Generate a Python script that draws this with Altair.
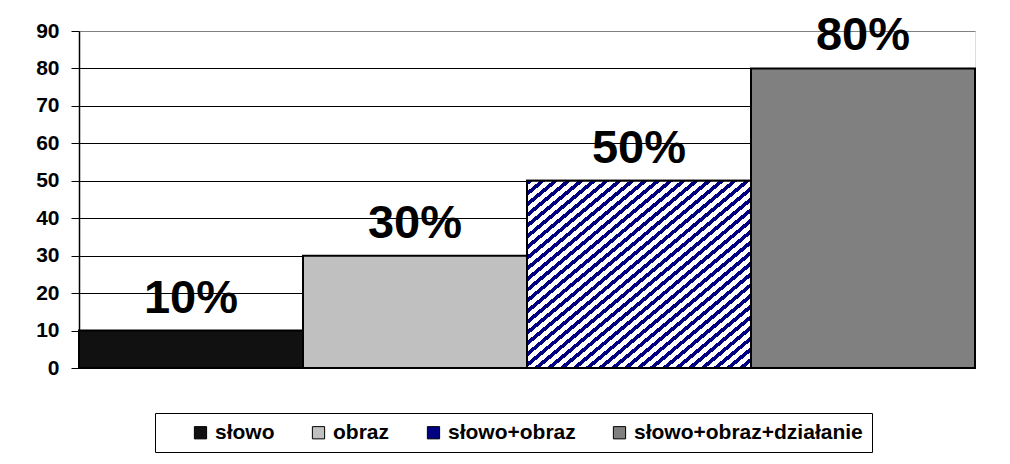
import altair as alt
import pandas as pd

categories = ["słowo", "obraz", "słowo+obraz", "słowo+obraz+działanie"]
values = [10, 30, 50, 80]
labels = ["10%", "30%", "50%", "80%"]
colors = ["#111111", "#c0c0c0", "#000080", "#808080"]
y_ticks = list(range(0, 100, 10))

df = pd.DataFrame({"cat": categories, "val": values, "label": labels})

# diagonal hatch for the "słowo+obraz" bar, built as a striped linear gradient
N = 35
FRAC = 0.45
stops = []
for k in range(N):
    stops += [
        {"offset": k / N, "color": "#000080"},
        {"offset": (k + FRAC) / N, "color": "#000080"},
        {"offset": (k + FRAC) / N, "color": "#ffffff"},
        {"offset": (k + 1) / N, "color": "#ffffff"},
    ]
hatch_fill = {"gradient": "linear", "x1": 0, "y1": 0, "x2": 1, "y2": 1, "stops": stops}

FONT = "Liberation Sans"

x_enc = alt.X("cat:N", sort=categories,
              scale=alt.Scale(paddingInner=0, paddingOuter=0), axis=None)
y_enc = alt.Y("val:Q", scale=alt.Scale(domain=[0, 90]),
              axis=alt.Axis(values=y_ticks, grid=True,
                            gridColor={"condition": {"test": "datum.value == 90 || datum.value == 0",
                                                     "value": "#808080"}, "value": "black"},
                            gridWidth=1, domainColor="black", domainWidth=1.5,
                            tickColor="black", tickSize=8, tickWidth=1,
                            labelFontSize=21, labelFontWeight="bold", labelColor="black",
                            labelFont=FONT, labelPadding=12, title=None))

base = alt.Chart(df)

bars = base.mark_bar(stroke="black", strokeWidth=2).encode(
    x=x_enc,
    y=y_enc,
    color=alt.Color("cat:N", sort=categories,
                    scale=alt.Scale(domain=categories, range=colors),
                    legend=alt.Legend(
                        orient="none", legendX=76, legendY=382,
                        direction="horizontal", columns=4,
                        title="\u00a0", titleOrient="left", titlePadding=26,
                        labelExpr="datum.label == 'słowo+obraz+działanie' ? datum.label + '\u00a0\u00a0\u00a0\u00a0\u00a0\u00a0' : datum.label",
                        strokeColor="black", padding=9,
                        symbolType="square", symbolSize=150,
                        symbolStrokeColor="black", symbolStrokeWidth=1,
                        labelFont=FONT, labelFontSize=21, labelFontWeight="bold",
                        labelColor="black", labelOffset=4, columnPadding=33,
                        labelLimit=400)),
)

hatch = base.transform_filter(alt.datum.cat == "słowo+obraz").mark_bar(
    fill=hatch_fill, stroke="black", strokeWidth=2
).encode(x=x_enc, y=y_enc)

text = base.mark_text(dy=-18, baseline="alphabetic", fontSize=47, fontWeight="bold",
                      font=FONT, color="black").encode(x=x_enc, y=y_enc, text="label:N")

chart = alt.layer(bars, hatch, text).properties(
    width=896, height=337,
    padding={"left": 71, "top": 23, "right": 20, "bottom": 88},
    autosize=alt.AutoSizeParams(type="none"),
).configure_view(stroke="#808080", strokeWidth=1.5).configure(font=FONT)

chart.save("out.html", embed_options={"renderer": "svg", "actions": False})
